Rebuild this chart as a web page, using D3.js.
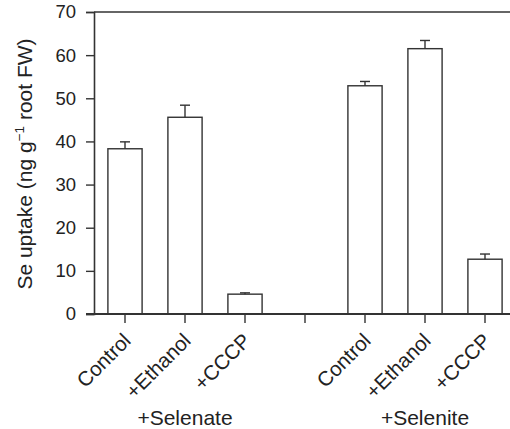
<!DOCTYPE html>
<html>
<head>
<meta charset="utf-8">
<script src="https://cdn.jsdelivr.net/npm/d3@7"></script>
<style>
  body { margin: 0; background: #fff; }
  text { font-family: "Liberation Sans", Arial, sans-serif; fill: #222; }
</style>
</head>
<body>
<div id="chart"></div>
<script>
// data
const slots = ["s1", "s2", "s3", "gap", "s4", "s5", "s6"];
const labels = ["Control", "+Ethanol", "+CCCP", "", "Control", "+Ethanol", "+CCCP"];
const values = [38.3, 45.6, 4.6, null, 52.9, 61.5, 12.7];
const errors = [1.6, 2.8, 0.3, null, 1.0, 1.9, 1.2];
const groups = ["+Selenate", "+Selenite"];
const groupSlots = [["s1", "s3"], ["s4", "s6"]];
const yTicks = [0, 10, 20, 30, 40, 50, 60, 70];

const W = 510, H = 429;
const margin = { top: 12, left: 94, bottom: 115 };
const plotBottom = H - margin.bottom;
const ink = "#333";

const svg = d3.select("#chart")
  .append("svg")
  .attr("width", W)
  .attr("height", H);

const x = d3.scaleBand()
  .domain(slots)
  .range([margin.left + 1, margin.left + 421])
  .paddingInner(0.43)
  .paddingOuter(0.215);

const y = d3.scaleLinear()
  .domain([0, 70])
  .range([plotBottom, margin.top]);

// y axis
const yAxis = svg.append("g")
  .attr("transform", `translate(${margin.left},0)`)
  .call(d3.axisLeft(y).tickValues(yTicks).tickSize(8).tickPadding(10));
yAxis.select(".domain").attr("stroke", ink).attr("stroke-width", 1.6);
yAxis.selectAll(".tick line").attr("stroke", ink).attr("stroke-width", 1.4);
yAxis.selectAll(".tick text")
  .attr("font-size", "18.5px")
  .attr("font-family", "Liberation Sans, Arial, sans-serif")
  .attr("fill", "#222");

// top line of the frame
svg.append("line")
  .attr("x1", margin.left).attr("x2", W)
  .attr("y1", y(70)).attr("y2", y(70))
  .attr("stroke", ink).attr("stroke-width", 1.6);

// bars
const barData = slots.map((s, i) => ({ slot: s, v: values[i], e: errors[i] }))
  .filter(d => d.v !== null);

svg.selectAll("rect.bar")
  .data(barData)
  .join("rect")
  .attr("class", "bar")
  .attr("x", d => x(d.slot))
  .attr("y", d => y(d.v))
  .attr("width", x.bandwidth())
  .attr("height", d => y(0) - y(d.v))
  .attr("fill", "#fff")
  .attr("stroke", ink)
  .attr("stroke-width", 1.4);

// error bars (upper only)
const cap = 10;
const err = svg.selectAll("g.err")
  .data(barData)
  .join("g")
  .attr("class", "err");
err.append("line")
  .attr("x1", d => x(d.slot) + x.bandwidth() / 2)
  .attr("x2", d => x(d.slot) + x.bandwidth() / 2)
  .attr("y1", d => y(d.v))
  .attr("y2", d => y(d.v + d.e))
  .attr("stroke", ink).attr("stroke-width", 1.4);
err.append("line")
  .attr("x1", d => x(d.slot) + x.bandwidth() / 2 - cap / 2)
  .attr("x2", d => x(d.slot) + x.bandwidth() / 2 + cap / 2)
  .attr("y1", d => y(d.v + d.e))
  .attr("y2", d => y(d.v + d.e))
  .attr("stroke", ink).attr("stroke-width", 1.4);

// x axis
const xAxis = svg.append("g")
  .attr("transform", `translate(0,${plotBottom})`)
  .call(d3.axisBottom(x).tickSize(9).tickFormat(""));
xAxis.select(".domain").remove();
xAxis.selectAll(".tick line").attr("stroke", ink).attr("stroke-width", 1.4);
svg.append("line")
  .attr("x1", margin.left - 8).attr("x2", W)
  .attr("y1", plotBottom).attr("y2", plotBottom)
  .attr("stroke", ink).attr("stroke-width", 1.8);

// rotated category labels
svg.selectAll("text.cat")
  .data(slots.map((s, i) => ({ slot: s, label: labels[i] })).filter(d => d.label))
  .join("text")
  .attr("class", "cat")
  .attr("text-anchor", "end")
  .attr("font-size", "20.5px")
  .attr("transform", d => `translate(${x(d.slot) + x.bandwidth() / 2 + 7},${plotBottom + 28}) rotate(-45)`)
  .text(d => d.label);

// group labels
svg.selectAll("text.grp")
  .data(groups.map((g, i) => ({ g, a: groupSlots[i][0], b: groupSlots[i][1] })))
  .join("text")
  .attr("class", "grp")
  .attr("text-anchor", "middle")
  .attr("font-size", "21px")
  .attr("x", d => (x(d.a) + x(d.b) + x.bandwidth()) / 2)
  .attr("y", 425)
  .text(d => d.g);

// y axis title
const title = svg.append("text")
  .attr("text-anchor", "middle")
  .attr("font-size", "21px")
  .attr("transform", `translate(32,${(y(0) + y(70)) / 2 + 1}) rotate(-90)`);
title.append("tspan").text("Se uptake (ng g");
title.append("tspan").attr("font-size", "13.5px").attr("dy", "-0.6em").text("\u22121");
title.append("tspan").attr("dy", "0.4em").text(" root FW)");
</script>
</body>
</html>
